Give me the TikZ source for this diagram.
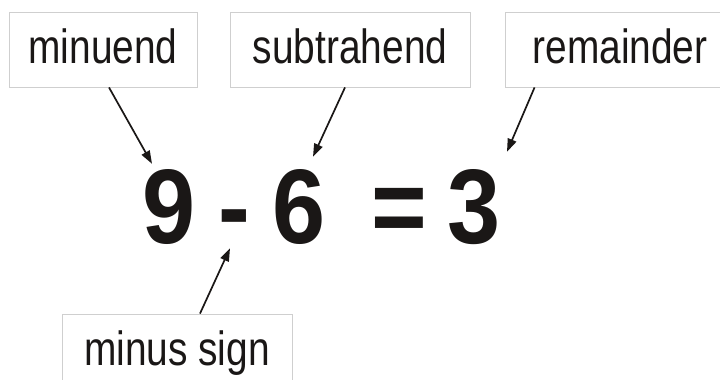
\documentclass[tikz,border=0pt]{standalone}
\usepackage{fontspec}
\setmainfont{Liberation Sans}
\newfontfamily\labelfont[FakeStretch=0.81]{Liberation Sans}
\newfontfamily\eqfont[FakeStretch=0.9]{Liberation Sans}
\usepackage{tikz}
\usetikzlibrary{positioning, arrows.meta, calc}
\definecolor{BoxGray}{HTML}{CFCFCF}
\definecolor{InkBlack}{HTML}{1A1716}

\begin{document}
\begin{tikzpicture}[
    x=1pt, y=-1pt,
    lbl/.style={rectangle, draw=BoxGray, line width=0.9pt, minimum height=75pt,
                inner sep=0pt, text height=37pt, text depth=10pt,
                font=\labelfont\fontsize{48}{48}\selectfont, text=InkBlack},
    digit/.style={anchor=base, inner sep=0pt, text=InkBlack,
                  font=\eqfont\bfseries\fontsize{106}{106}\selectfont},
    arr/.style={-{Triangle[length=13pt, width=9pt]}, line width=1.7pt, InkBlack}
]
  \useasboundingbox (0,0) rectangle (720,380);

  % labels
  \node[lbl, minimum width=188pt] (minuend)    at (103,49.5)  {minuend};
  \node[lbl, minimum width=240pt] (subtrahend) at (350,49.5)  {subtrahend};
  \node[lbl, minimum width=230pt] (remainder)  at (620,49.5)  {remainder};
  \node[lbl, minimum width=230pt] (minussign)  at (177,351.5) {minus sign};

  % the sum
  \node[digit] (n9)    at (169.5,243) {9};
  \node[digit] (minus) at (234.5,243) {-};
  \node[digit] (n6)    at (299.5,243) {6};
  \node[digit] (eq)    at (399.5,243) {=};
  \node[digit] (n3)    at (474,243)   {3};

  \draw[arr] ([xshift=6pt]minuend.south) -- ([xshift=-17.5pt, yshift=5pt]n9.north);
  \draw[arr] ([xshift=-5pt]subtrahend.south) -- ([xshift=13.5pt, yshift=12pt]n6.north);
  \draw[arr] ([xshift=30pt]remainder.south west) -- ([xshift=33pt, yshift=17pt]n3.north);
  \draw[arr] ([xshift=23pt]minussign.north) -- ([xshift=-4.5pt, yshift=-5pt]minus.south);
\end{tikzpicture}
\end{document}
